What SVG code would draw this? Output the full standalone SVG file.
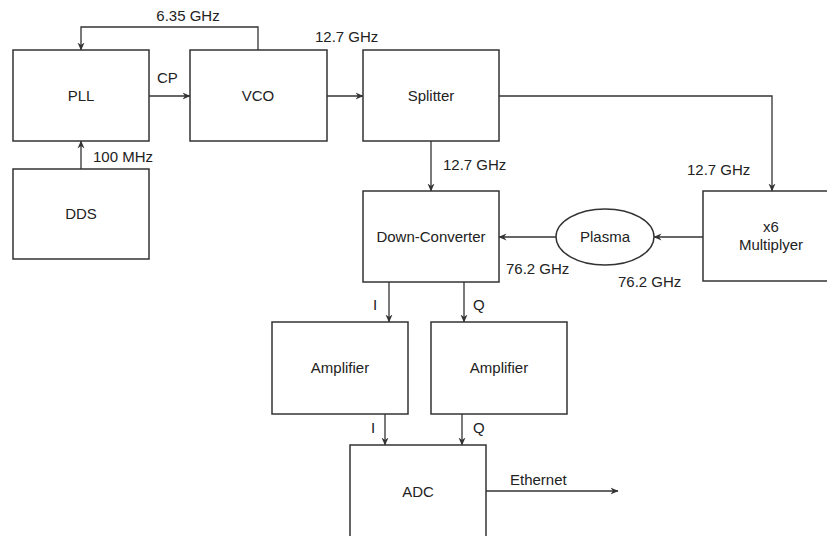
<svg xmlns="http://www.w3.org/2000/svg" width="827" height="536" viewBox="0 0 827 536">
<defs>
<style>
.box{fill:#fff;stroke:#333;stroke-width:1.5}
.ln{fill:none;stroke:#333;stroke-width:1.3}
text{font-family:"Liberation Sans",Arial,sans-serif;font-size:15px;fill:#222}
.c{text-anchor:middle}
</style>
<marker id="arr" viewBox="0 0 8 8" refX="7.5" refY="4" markerWidth="8" markerHeight="8" markerUnits="userSpaceOnUse" orient="auto">
<path d="M0,0.5 L8,4 L0,7.5 L2.5,4 z" fill="#333"/>
</marker>
</defs>
<rect width="827" height="536" fill="#fff"/>
<g id="connectors">
<path class="ln" d="M258,50 V27 H81 V50" marker-end="url(#arr)"/>
<path class="ln" d="M149,96 H190" marker-end="url(#arr)"/>
<path class="ln" d="M327,96 H363" marker-end="url(#arr)"/>
<path class="ln" d="M81,169 V141" marker-end="url(#arr)"/>
<path class="ln" d="M499,96 H772 V191" marker-end="url(#arr)"/>
<path class="ln" d="M431,141 V191" marker-end="url(#arr)"/>
<path class="ln" d="M703,237 H654" marker-end="url(#arr)"/>
<path class="ln" d="M556,237 H499" marker-end="url(#arr)"/>
<path class="ln" d="M389,282 V322" marker-end="url(#arr)"/>
<path class="ln" d="M464,282 V322" marker-end="url(#arr)"/>
<path class="ln" d="M385,414 V445" marker-end="url(#arr)"/>
<path class="ln" d="M462,414 V445" marker-end="url(#arr)"/>
<path class="ln" d="M486,491 H618" marker-end="url(#arr)"/>
<text x="188" y="21" class="c">6.35 GHz</text>
<text x="315" y="42">12.7 GHz</text>
<text x="157" y="83">CP</text>
<text x="93" y="162">100 MHz</text>
<text x="443" y="170">12.7 GHz</text>
<text x="687" y="175">12.7 GHz</text>
<text x="506" y="274">76.2 GHz</text>
<text x="618" y="287">76.2 GHz</text>
<text x="373" y="310">I</text>
<text x="473" y="310">Q</text>
<text x="371" y="433">I</text>
<text x="473" y="433">Q</text>
<text x="510" y="485">Ethernet</text>
</g>
<g id="pll"><rect class="box" x="13" y="50" width="136" height="91"/><text x="81" y="101" class="c">PLL</text></g>
<g id="vco"><rect class="box" x="190" y="50" width="137" height="91"/><text x="258" y="101" class="c">VCO</text></g>
<g id="splitter"><rect class="box" x="363" y="50" width="136" height="91"/><text x="431" y="101" class="c">Splitter</text></g>
<g id="dds"><rect class="box" x="13" y="169" width="136" height="90"/><text x="81" y="219" class="c">DDS</text></g>
<g id="downconverter"><rect class="box" x="363" y="191" width="136" height="91"/><text x="431" y="242" class="c">Down-Converter</text></g>
<g id="plasma"><ellipse class="box" cx="605" cy="237" rx="49" ry="28" stroke-width="1.2"/><text x="605" y="242" class="c">Plasma</text></g>
<g id="multiplyer"><rect class="box" x="703" y="191" width="130" height="90"/><text x="771" y="232" class="c">x6</text><text x="771" y="250" class="c">Multiplyer</text></g>
<g id="amp1"><rect class="box" x="272" y="322" width="136" height="92"/><text x="340" y="373" class="c">Amplifier</text></g>
<g id="amp2"><rect class="box" x="431" y="322" width="136" height="92"/><text x="499" y="373" class="c">Amplifier</text></g>
<g id="adc"><rect class="box" x="350" y="445" width="136" height="100"/><text x="418" y="497" class="c">ADC</text></g>
</svg>
